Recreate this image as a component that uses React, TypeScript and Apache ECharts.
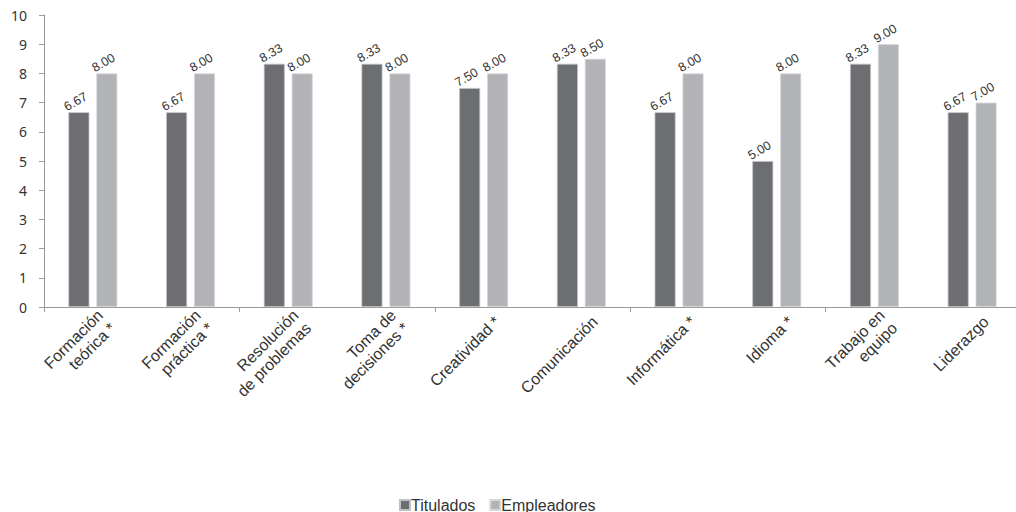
import React, { useEffect, useRef } from "react";
import * as echarts from "echarts";

const categories = [
  "Formación\nteórica *",
  "Formación\npráctica *",
  "Resolución\nde problemas",
  "Toma de\ndecisiones *",
  "Creatividad *",
  "Comunicación",
  "Informática *",
  "Idioma *",
  "Trabajo en\nequipo",
  "Liderazgo",
];
const titulados = [6.67, 6.67, 8.33, 8.33, 7.5, 8.33, 6.67, 5.0, 8.33, 6.67];
const empleadores = [8.0, 8.0, 8.0, 8.0, 8.0, 8.5, 8.0, 8.0, 9.0, 7.0];
const seriesNames = ["Titulados", "Empleadores"];
const yTicks = { min: 0, max: 10, interval: 1 };

const ARIAL = "'Liberation Sans', Arial, sans-serif";
const LABEL_SHIFT = 0.14; // fraction of a category that the rotated labels sit right of the centre

export default function App() {
  const ref = useRef<HTMLDivElement>(null);
  useEffect(() => {
    document.body.style.margin = "0";
    document.body.style.overflow = "hidden";
    const chart = echarts.init(ref.current!, null, { renderer: "svg" });
    const label = {
      show: true,
      position: "top" as const,
      rotate: 30,
      distance: 5,
      formatter: (p: any) => Number(p.value).toFixed(2),
      fontFamily: ARIAL,
      fontSize: 12.5,
      color: "#333",
    };
    chart.setOption({
      animation: false,
      textStyle: { fontFamily: ARIAL },
      legend: {
        data: seriesNames,
        bottom: -6,
        left: 394,
        itemWidth: 10,
        itemHeight: 10,
        itemGap: 14,
        icon: "rect",
        textStyle: { fontSize: 16, color: "#333", fontFamily: ARIAL, padding: [0, 0, 0, -4] },
      },
      grid: { left: 44, right: 0, top: 15, bottom: 205 },
      xAxis: [
        {
          type: "category",
          data: categories,
          axisLine: { lineStyle: { color: "#999" } },
          axisTick: { show: true, length: 5, lineStyle: { color: "#999" } },
          axisLabel: { show: false },
        },
        {
          type: "value",
          position: "bottom",
          min: 0,
          max: categories.length,
          axisLine: { show: false },
          axisTick: { show: false },
          splitLine: { show: false },
          axisLabel: {
            customValues: categories.map((_, i) => i + 0.5 + LABEL_SHIFT),
            formatter: (v: number) => categories[Math.floor(v)] ?? "",
            rotate: 45,
            fontSize: 16,
            color: "#333",
            margin: 12,
            lineHeight: 18,
            fontFamily: ARIAL,
            showMinLabel: true,
            showMaxLabel: true,
          },
        },
      ],
      yAxis: {
        type: "value",
        min: yTicks.min,
        max: yTicks.max,
        interval: yTicks.interval,
        splitLine: { show: false },
        axisLine: { show: true, lineStyle: { color: "#999" } },
        axisTick: { show: true, length: 5, lineStyle: { color: "#999" } },
        axisLabel: {
          fontSize: 14,
          color: "#333",
          margin: 17,
          fontFamily: "'Noto Sans', sans-serif",
        },
      },
      series: [
        {
          name: seriesNames[0],
          type: "bar",
          xAxisIndex: 0,
          data: titulados,
          barWidth: 21,
          barGap: "33%",
          itemStyle: { color: "#6d6e72", borderColor: "#bfc0c2", borderWidth: 0.8 },
          label,
        },
        {
          name: seriesNames[1],
          type: "bar",
          xAxisIndex: 0,
          data: empleadores,
          barWidth: 21,
          itemStyle: { color: "#b2b3b6", borderColor: "#d6d7d9", borderWidth: 0.8 },
          label,
        },
      ],
    });
    return () => chart.dispose();
  }, []);
  return <div ref={ref} style={{ width: 1021, height: 512 }} />;
}
